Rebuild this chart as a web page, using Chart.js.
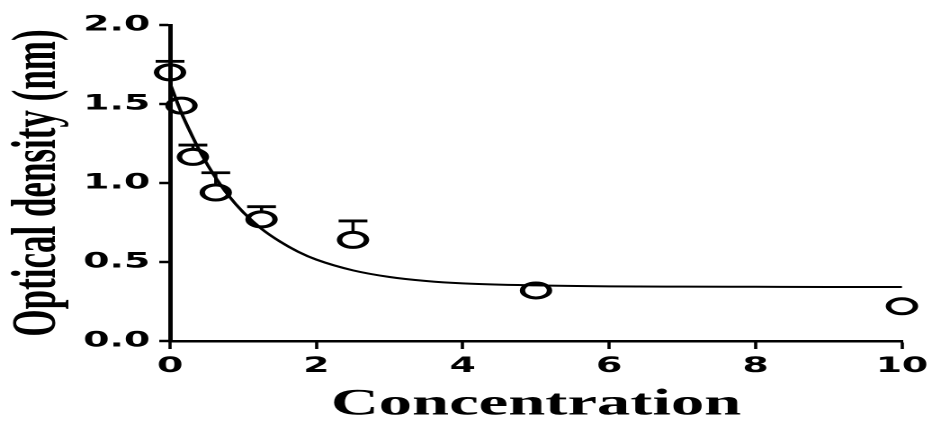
<!DOCTYPE html>
<html>
<head>
<meta charset="utf-8">
<script src="https://cdn.jsdelivr.net/npm/chart.js@4"></script>
<style>
  body { margin: 0; background: #fff; }
  /* the reference picture is stretched sideways, so the chart is drawn narrow and scaled in x */
  #wrap { position: absolute; left: 0; top: 0; width: 518px; height: 421px; transform: scaleX(1.7992); transform-origin: 0 0; }
</style>
</head>
<body>
<div id="wrap"><canvas id="chart" width="518" height="421"></canvas></div>
<script>
// measured points
const conc = [0, 0.156, 0.3125, 0.625, 1.25, 2.5, 5, 10]
const od = [1.70, 1.49, 1.165, 0.94, 0.77, 0.64, 0.32, 0.22]
const odErr = [0.07, 0.02, 0.075, 0.125, 0.08, 0.12, 0, 0]

// fitted curve
const fitX = [0, 0.15, 0.3, 0.45, 0.6, 0.8, 1.0, 1.25, 1.5, 1.75, 2, 2.5, 3, 3.5, 4, 5, 6, 7, 8, 9, 10]
const fitY = [1.63, 1.45, 1.30, 1.165, 1.05, 0.92, 0.815, 0.71, 0.63, 0.565, 0.515, 0.447, 0.405, 0.38, 0.365, 0.352, 0.346, 0.344, 0.343, 0.342, 0.342]

const xTicks = [0, 2, 4, 6, 8, 10]
const yTicks = [0, 0.5, 1.0, 1.5, 2.0]

const pointR = 7.5

// upper half error bars only
const errorBars = {
    id: 'errorBars',
    afterDatasetsDraw(chart) {
        const ctx = chart.ctx
        const x = chart.scales.x
        const y = chart.scales.y
        ctx.save()
        ctx.strokeStyle = '#000'
        conc.forEach((c, i) => {
            const px = x.getPixelForValue(c)
            const py = y.getPixelForValue(od[i])
            const top = y.getPixelForValue(od[i] + odErr[i])
            if (top >= py - pointR - 1) return
            ctx.lineWidth = 1.8
            ctx.beginPath()
            ctx.moveTo(px, py - pointR - 1)
            ctx.lineTo(px, top)
            ctx.stroke()
            ctx.lineWidth = 2.8
            ctx.beginPath()
            ctx.moveTo(px - 8, top)
            ctx.lineTo(px + 8, top)
            ctx.stroke()
        })
        ctx.restore()
    }
}

const ctx = document.getElementById('chart').getContext('2d')
new Chart(ctx, {
    type: 'scatter',
    data: {
        datasets: [
            {
                label: 'fit',
                data: fitX.map((v, i) => ({ x: v, y: fitY[i] })),
                showLine: true,
                borderColor: '#000',
                borderWidth: 2,
                pointRadius: 0,
                cubicInterpolationMode: 'monotone',
                clip: false,
                order: 2
            },
            {
                label: 'Optical density',
                data: conc.map((v, i) => ({ x: v, y: od[i] })),
                pointStyle: 'circle',
                pointRadius: pointR,
                pointBorderWidth: 3,
                pointBorderColor: '#000',
                pointBackgroundColor: 'rgba(0,0,0,0)',
                clip: false,
                order: 1
            }
        ]
    },
    options: {
        responsive: false,
        animation: false,
        devicePixelRatio: 2,
        layout: { padding: { top: 25, right: 16.7, left: 0, bottom: 0 } },
        plugins: {
            legend: { display: false },
            tooltip: { enabled: false }
        },
        scales: {
            x: {
                type: 'linear',
                min: 0,
                max: 10,
                afterBuildTicks: scale => { scale.ticks = xTicks.map(v => ({ value: v })) },
                afterFit: scale => {
                    scale.height = 80
                    scale.paddingLeft = 0
                    scale.paddingRight = 0
                },
                border: { color: '#000', width: 2.5 },
                grid: { drawOnChartArea: false, color: '#000', tickLength: 8, tickWidth: 1.8 },
                ticks: {
                    color: '#000',
                    padding: 5,
                    font: { family: 'DejaVu Sans', weight: 'bold', size: 21 }
                },
                title: {
                    display: true,
                    text: 'Concentration',
                    color: '#000',
                    padding: { top: 0, bottom: 0 },
                    font: { family: 'Liberation Serif', weight: 'bold', size: 37, lineHeight: 0.88 }
                }
            },
            y: {
                min: 0,
                max: 2,
                afterBuildTicks: scale => { scale.ticks = yTicks.map(v => ({ value: v })) },
                afterFit: scale => { scale.width = 94.5 },
                border: { color: '#000', width: 2.5 },
                grid: { drawOnChartArea: false, color: '#000', tickLength: 6, tickWidth: 2.5 },
                ticks: {
                    color: '#000',
                    padding: 5,
                    font: { family: 'DejaVu Sans', weight: 'bold', size: 21 },
                    callback: v => v.toFixed(1)
                },
                title: {
                    display: true,
                    text: 'Optical density (nm)',
                    color: '#000',
                    padding: { top: 4, bottom: 0 },
                    font: { family: 'Liberation Serif', weight: 'bold', size: 35, lineHeight: 1 }
                }
            }
        }
    },
    plugins: [errorBars]
})
</script>
</body>
</html>
